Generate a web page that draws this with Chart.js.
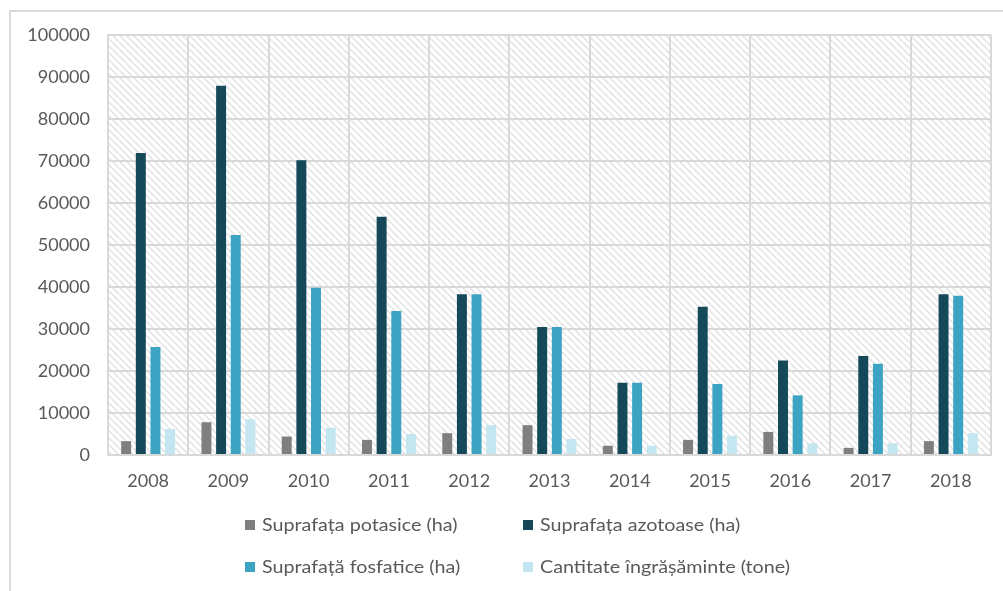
<!DOCTYPE html>
<html>
<head>
<meta charset="utf-8">
<script src="https://cdn.jsdelivr.net/npm/chart.js@4/dist/chart.umd.min.js"></script>
<style>
  html, body { margin: 0; padding: 0; background: #fff; }
  #wrap { position: relative; width: 1003px; height: 591px; overflow: hidden; }
  #frame { position: absolute; left: 9px; top: 10px; width: 1000px; height: 600px;
           border-left: 2px solid #d9d9d9; border-top: 2px solid #d9d9d9; box-sizing: border-box; }
  #c { position: absolute; left: 0; top: 0; }
  .lg { position: absolute; font: 17px Lato, "Open Sans", sans-serif; color: #595959; white-space: nowrap;
        display: flex; align-items: center; }
  .lg i { display: inline-block; width: 10px; height: 10px; margin-right: 7px; }
  .lg span { display: inline-block; transform: scaleX(1.16); transform-origin: left center; }
</style>
</head>
<body>
<div id="wrap">
  <div id="frame"></div>
  <canvas id="c" width="1003" height="591"></canvas>
  <div id="legend"></div>
</div>
<script>
// years on the x axis
const years = ["2008", "2009", "2010", "2011", "2012", "2013", "2014", "2015", "2016", "2017", "2018"];
// series values
const potasice = [3300, 7800, 4400, 3600, 5200, 7100, 2200, 3600, 5500, 1700, 3300];
const azotoase = [71900, 87900, 70200, 56700, 38300, 30500, 17200, 35300, 22500, 23600, 38300];
const fosfatice = [25700, 52400, 39800, 34300, 38300, 30500, 17200, 16900, 14200, 21700, 37900];
const cantitate = [6200, 8500, 6500, 5000, 7100, 3800, 2200, 4600, 2800, 2800, 5200];
const seriesNames = ["Suprafața potasice (ha)", "Suprafața azotoase (ha)", "Suprafață fosfatice (ha)", "Cantitate îngrășăminte (tone)"];
const seriesColors = ["#7f7f7f", "#15495a", "#3ca3c2", "#c3e6f0"];
const yTicks = [0, 10000, 20000, 30000, 40000, 50000, 60000, 70000, 80000, 90000, 100000];

// diagonal hatch for the plot background
function hatch() {
  const t = document.createElement("canvas");
  t.width = 7; t.height = 7;
  const g = t.getContext("2d");
  g.fillStyle = "#fff"; g.fillRect(0, 0, 7, 7);
  g.strokeStyle = "#e2e2e2"; g.lineWidth = 1.5;
  [-7, 0, 7].forEach(o => { g.beginPath(); g.moveTo(o, 0); g.lineTo(o + 7, 7); g.stroke(); });
  return document.getElementById("c").getContext("2d").createPattern(t, "repeat");
}

const bgPlugin = {
  id: "plotbg",
  beforeDraw(chart) {
    const a = chart.chartArea, ctx = chart.ctx;
    ctx.save();
    ctx.fillStyle = hatch();
    ctx.fillRect(a.left, a.top, a.right - a.left, a.bottom - a.top);
    ctx.restore();
  },
};

const FONT = { family: "Lato, 'Open Sans', sans-serif", size: 18 };

new Chart(document.getElementById("c"), {
  type: "bar",
  data: {
    labels: years,
    datasets: [potasice, azotoase, fosfatice, cantitate].map((d, i) => ({
      label: seriesNames[i], data: d, backgroundColor: seriesColors[i],
      categoryPercentage: 0.73, barPercentage: 0.68,
    })),
  },
  options: {
    responsive: false, animation: false,
    layout: { padding: { left: 0, top: 35, right: 12, bottom: 0 } },
    plugins: { legend: { display: false }, tooltip: { enabled: false } },
    scales: {
      x: {
        grid: { color: "#d9d9d9", lineWidth: 2, drawTicks: false },
        border: { color: "#d9d9d9", width: 2 },
        ticks: { color: "#595959", font: FONT, padding: 15 },
        afterFit: s => { s.height = 136; },
      },
      y: {
        min: 0, max: 100000,
        afterBuildTicks: s => { s.ticks = yTicks.map(v => ({ value: v })); },
        grid: { color: "#d9d9d9", lineWidth: 2, drawTicks: false },
        border: { color: "#d9d9d9", width: 2 },
        ticks: { color: "#595959", font: FONT, padding: 18, callback: v => String(v) },
        afterFit: s => { s.width = 108; },
      },
    },
  },
  plugins: [bgPlugin],
});

// legend laid out in two aligned columns like the original
const lg = document.getElementById("legend");
const pos = [[245, 525], [523, 525], [245, 567], [523, 567]];
seriesNames.forEach((n, i) => {
  const d = document.createElement("div");
  d.className = "lg";
  d.style.left = pos[i][0] + "px";
  d.style.top = (pos[i][1] - 11) + "px";
  d.innerHTML = `<i style="background:${seriesColors[i]}"></i><span>${n}</span>`;
  lg.appendChild(d);
});
</script>
</body>
</html>
